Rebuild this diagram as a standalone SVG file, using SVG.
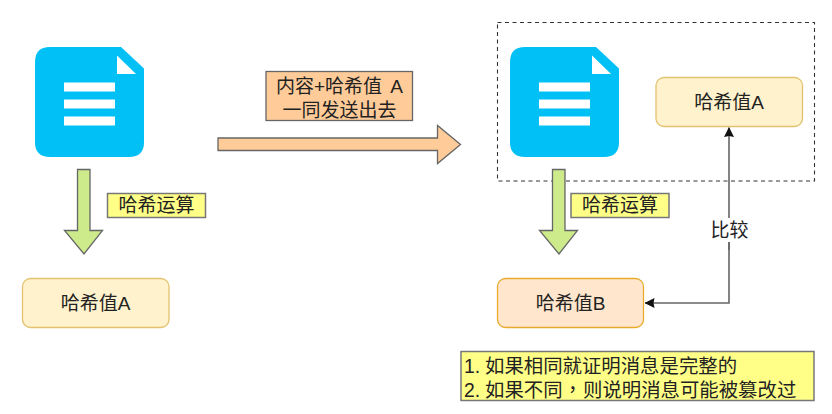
<svg xmlns="http://www.w3.org/2000/svg" width="832" height="414" viewBox="0 0 832 414">
<style>
text{font-family:"Liberation Sans","Noto Sans CJK SC",sans-serif;font-size:19px;fill:#222;text-anchor:middle}
.l{text-anchor:start;font-size:19.400px}
.tc{font-family:"Liberation Sans","Noto Sans CJK TC",sans-serif}
.box{stroke:#777;stroke-width:1.5}
.y{fill:#ffff88}
.p{fill:#fff2cc;stroke:#e3c26f;stroke-width:1.3}
.g{fill:#cdeb8b;stroke:#666;stroke-width:1.3}
.o{fill:#ffcc99;stroke:#666;stroke-width:1.3}
.w{fill:#fff}
.c{fill:none;stroke:#666;stroke-width:1.6}
</style>
<defs>
<g id="doc"><path d="M15 0H86L109 21.500V95Q109 110 94 110H15Q0 110 0 95V15Q0 0 15 0Z" fill="#00c0f5"/>
<path class="w" d="M82 8.500L101 27H82Z"/><rect class="w" x="29" y="35.500" width="51" height="9"/><rect class="w" x="29" y="52.500" width="51" height="9"/><rect class="w" x="29" y="69.500" width="51" height="9"/></g>
<marker id="ah" markerWidth="10" markerHeight="10" refX="9.500" refY="5" orient="auto" markerUnits="userSpaceOnUse"><path d="M0 0L10 5L0 10L1 5Z" fill="#111"/></marker>
</defs>
<g id="frame"><rect x="497.500" y="22.500" width="317" height="158.500" fill="none" stroke="#333" stroke-width="1.100" stroke-dasharray="4 3.500"/></g>
<g id="connectors">
<path class="c" d="M729 250V127.500" marker-end="url(#ah)"/>
<path class="c" d="M729 240V303H645" marker-end="url(#ah)"/>
</g>
<g id="doc-left"><use href="#doc" x="35" y="47"/></g>
<g id="doc-right"><use href="#doc" x="510" y="47"/></g>
<g id="arrow-left"><path class="g" d="M77.500 169.500H90V230.500H102.500L84 254L64.500 230.500H77.500Z"/></g>
<g id="arrow-right"><path class="g" d="M552.500 169.500H565V230.500H577.500L559 254L539.500 230.500H552.500Z"/></g>
<g id="label-hash-left"><rect class="box y" x="107.500" y="193.500" width="98" height="24"/><text x="156.500" y="212">哈希运算</text></g>
<g id="label-hash-right"><rect class="box y" x="571" y="193.500" width="98" height="24"/><text x="620" y="212">哈希运算</text></g>
<g id="hash-a-left"><rect class="p" x="22.500" y="278.500" width="146.500" height="49" rx="8"/><text x="95.500" y="309.500">哈希值A</text></g>
<g id="hash-a-right"><rect class="p" x="656" y="77.500" width="146.500" height="49" rx="8"/><text x="729" y="108.500">哈希值A</text></g>
<g id="hash-b"><rect x="497.500" y="278.500" width="146" height="49" rx="8" fill="#ffe6cc" stroke="#e8ab2e" stroke-width="1.300"/><text x="570.500" y="309.500">哈希值B</text></g>
<g id="send-label"><rect class="box o" x="266" y="71.500" width="146.500" height="49"/><text x="339.500" y="93" word-spacing="3">内容+哈希值 A</text><text x="339.500" y="117">一同发送出去</text></g>
<g id="send-arrow"><path class="o" d="M218 138H437.500V125.500L460.500 144.500L437.500 163.500V150.500H218Z"/></g>
<g id="compare-label"><rect class="w" x="708" y="218" width="42" height="24"/><text x="729.500" y="236.500">比较</text></g>
<g id="note"><rect class="box y" x="461" y="351.500" width="353" height="49"/><text class="l" x="464" y="372.500">1. <tspan x="485">如果相同就证明消息是完整的</tspan></text><text class="l" x="464" y="396.500">2. <tspan x="485">如果不同</tspan><tspan class="tc" x="563">，</tspan><tspan x="583">则说明消息可能被篡改过</tspan></text></g>
</svg>
